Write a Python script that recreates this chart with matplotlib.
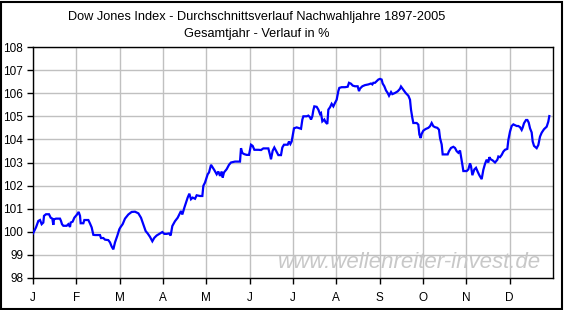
import matplotlib
matplotlib.use("Agg")
import matplotlib.pyplot as plt
from matplotlib.patches import Rectangle

# position in months since Jan 1 (0 = J, 12 = end of Dec)
month_pos = [
    0.0, 0.069, 0.123, 0.162, 0.2, 0.238, 0.254, 0.3, 0.369, 0.408, 0.446, 0.469, 0.485,
    0.531, 0.623, 0.646, 0.669, 0.7, 0.777, 0.815, 0.854, 0.869, 0.915, 0.954, 1.008,
    1.054, 1.085, 1.1, 1.162, 1.185, 1.277, 1.315, 1.354, 1.392, 1.431, 1.546, 1.569,
    1.623, 1.662, 1.738, 1.777, 1.816, 1.854, 1.892, 1.946, 1.992, 2.023, 2.069, 2.123,
    2.2, 2.277, 2.354, 2.431, 2.492, 2.546, 2.6, 2.646, 2.7, 2.754, 2.8, 2.854, 2.931,
    2.985, 3.031, 3.085, 3.139, 3.177, 3.215, 3.277, 3.339, 3.377, 3.415, 3.446, 3.492,
    3.531, 3.569, 3.608, 3.646, 3.685, 3.739, 3.777, 3.854, 3.908, 3.931, 3.969,
    4.031, 4.062, 4.108, 4.139, 4.185, 4.239, 4.277, 4.316, 4.354, 4.377, 4.408, 4.469,
    4.523, 4.569, 4.662, 4.777, 4.8, 4.831, 4.877, 4.931, 4.985, 5.031, 5.069, 5.108,
    5.2, 5.262, 5.315, 5.431, 5.469, 5.492, 5.531, 5.569, 5.608, 5.662, 5.723, 5.754,
    5.792, 5.877, 5.908, 5.939, 5.969, 6.0, 6.023, 6.085,
    6.185, 6.216, 6.239, 6.316, 6.354, 6.392, 6.416, 6.446, 6.469, 6.492, 6.546, 6.585,
    6.623, 6.646, 6.677, 6.723, 6.754, 6.792, 6.816, 6.854, 6.892, 6.931, 6.969, 7.008,
    7.046, 7.069, 7.123, 7.2, 7.262, 7.292, 7.339, 7.377, 7.431, 7.492, 7.523, 7.546,
    7.6, 7.662, 7.739, 7.8, 7.831, 7.854, 7.892, 7.931, 7.969, 8.008, 8.046, 8.069, 8.108,
    8.146, 8.185, 8.216, 8.262, 8.292, 8.354, 8.416, 8.469, 8.492, 8.546, 8.6, 8.662,
    8.7, 8.723, 8.754, 8.777, 8.854, 8.892, 8.916, 8.946, 8.969, 9.008, 9.062, 9.123,
    9.162, 9.2, 9.239, 9.277, 9.331, 9.369, 9.393, 9.431, 9.454, 9.569, 9.6, 9.646,
    9.7, 9.739, 9.777, 9.816, 9.854, 9.877, 9.908, 9.931, 10.008, 10.046, 10.085,
    10.108, 10.139, 10.185, 10.223, 10.262, 10.3,
    10.354, 10.392, 10.431, 10.469, 10.508, 10.531, 10.562, 10.608, 10.662, 10.716,
    10.739, 10.777, 10.816, 10.854, 10.892, 10.946, 10.97, 11.008, 11.046, 11.085,
    11.162, 11.2, 11.239, 11.277, 11.3, 11.331, 11.377, 11.408, 11.439, 11.47, 11.508,
    11.531, 11.562, 11.623, 11.662, 11.7, 11.739, 11.792, 11.854, 11.892, 11.915,
]

# average course in percent (start of year = 100)
pct = [
    99.93, 100.19, 100.47, 100.51, 100.33, 100.4, 100.69, 100.76, 100.76, 100.61, 100.57,
    100.3, 100.54, 100.57, 100.57, 100.47, 100.33, 100.26, 100.26, 100.33, 100.21, 100.4,
    100.44, 100.61, 100.73, 100.86, 100.69, 100.37, 100.37, 100.51, 100.51, 100.36,
    100.19, 99.87, 99.86, 99.86, 99.73, 99.73, 99.66, 99.64, 99.54, 99.36, 99.24, 99.54,
    99.83, 100.11, 100.21, 100.33, 100.57,
    100.75, 100.86, 100.87, 100.8, 100.61, 100.32, 100.03, 99.93, 99.78, 99.59, 99.74,
    99.84, 99.93, 99.99, 99.91, 99.91, 99.93, 99.84, 100.25, 100.46, 100.61, 100.75,
    100.9, 100.75, 101.04, 101.26, 101.48, 101.65, 101.41, 101.48, 101.43, 101.58,
    101.55, 101.55, 101.99, 102.13,
    102.49, 102.57, 102.9, 102.81, 102.67, 102.49, 102.61, 102.42, 102.61, 102.35,
    102.57, 102.71, 102.9, 103.0, 103.04, 103.04, 103.62, 103.41, 103.36, 103.33,
    103.33, 103.77, 103.72, 103.55, 103.55, 103.54, 103.61, 103.61, 103.33, 103.14,
    103.51, 103.65, 103.51, 103.32, 103.32, 103.65, 103.77, 103.77, 103.91, 103.8,
    103.91, 104.23, 104.48, 104.52,
    104.46, 104.86, 105.0, 105.0, 105.03, 104.96, 104.86, 105.0, 105.26, 105.43, 105.41,
    105.29, 105.1, 105.14, 104.78, 104.86, 104.74, 104.67, 105.29, 105.39, 105.54,
    105.43, 105.58, 105.72, 106.09, 106.23, 106.26, 106.26, 106.28, 106.45, 106.41,
    106.33, 106.3, 106.3, 106.09, 106.2, 106.3, 106.35, 106.38, 106.42, 106.38, 106.45,
    106.45, 106.52, 106.59, 106.62, 106.59, 106.42, 106.3,
    106.12, 106.01, 105.89, 106.05, 105.96, 106.01, 106.08, 106.19, 106.29, 106.15,
    106.01, 105.89, 105.72, 105.29, 104.93, 104.71, 104.71, 104.64, 104.21, 104.06,
    104.24, 104.38, 104.45, 104.5, 104.57, 104.71, 104.57, 104.53, 104.5, 104.42,
    104.06, 103.78, 103.35, 103.35, 103.49, 103.63, 103.68, 103.63, 103.49, 103.42,
    103.52, 103.27, 102.91, 102.63, 102.63, 102.7, 102.96, 102.84, 102.45, 102.7,
    102.77, 102.6, 102.45,
    102.28, 102.68, 102.94, 103.12, 103.0, 103.23, 103.14, 103.09, 103.0, 103.12,
    103.26, 103.23, 103.33, 103.47, 103.55, 103.59, 103.98, 104.34, 104.58, 104.65,
    104.58, 104.58, 104.53, 104.41, 104.51, 104.7, 104.84, 104.84, 104.73, 104.48,
    104.3, 103.91, 103.72, 103.62, 103.76, 104.12, 104.29, 104.44, 104.55, 104.77, 105.01,
]

month_labels = ["J", "F", "M", "A", "M", "J", "J", "A", "S", "O", "N", "D"]
y_ticks = list(range(98, 109))

plt.rcParams["font.family"] = ["Liberation Sans", "DejaVu Sans"]

W, H = 564, 310
fig = plt.figure(figsize=(W / 100, H / 100), dpi=100)
fig.patch.set_facecolor("white")

# outer chart border
fig.patches.append(Rectangle((1 / W, 1.5 / H), 561 / W, 307 / H, transform=fig.transFigure,
                             fill=False, edgecolor="black", linewidth=1.5))

ax = fig.add_axes([33 / W, 32 / H, 520 / W, 231 / H])
ax.set_xlim(0, 12)
ax.set_ylim(98, 108)

ax.set_xticks(range(12))
ax.set_xticklabels(month_labels)
ax.set_yticks(y_ticks)
ax.set_yticklabels([str(v) for v in y_ticks])

ax.grid(True, color="#c0c0c0", linewidth=1.0, zorder=0)
ax.set_axisbelow(True)
for s in ax.spines.values():
    s.set_color("black")
    s.set_linewidth(1.0)

ax.tick_params(axis="both", direction="out", length=4, width=1, color="black",
               labelsize=8.5, labelcolor="black")
ax.tick_params(axis="x", pad=6)
ax.tick_params(axis="y", pad=3)

ax.text(0.976, 0.068, "www.wellenreiter-invest.de", transform=ax.transAxes,
        ha="right", va="center", fontsize=16, style="italic", color="#c8c8c8", zorder=1)

ax.plot(month_pos, pct, color="#0000ff", linewidth=1.6, zorder=3, solid_joinstyle="miter")

fig.text(257 / W, 1 - 17 / H, "Dow Jones Index - Durchschnittsverlauf Nachwahljahre 1897-2005",
         ha="center", va="center", fontsize=9.2)
fig.text(257 / W, 1 - 34.5 / H, "Gesamtjahr - Verlauf in %", ha="center", va="center", fontsize=9.2)

fig.savefig("out.png", dpi=100)
